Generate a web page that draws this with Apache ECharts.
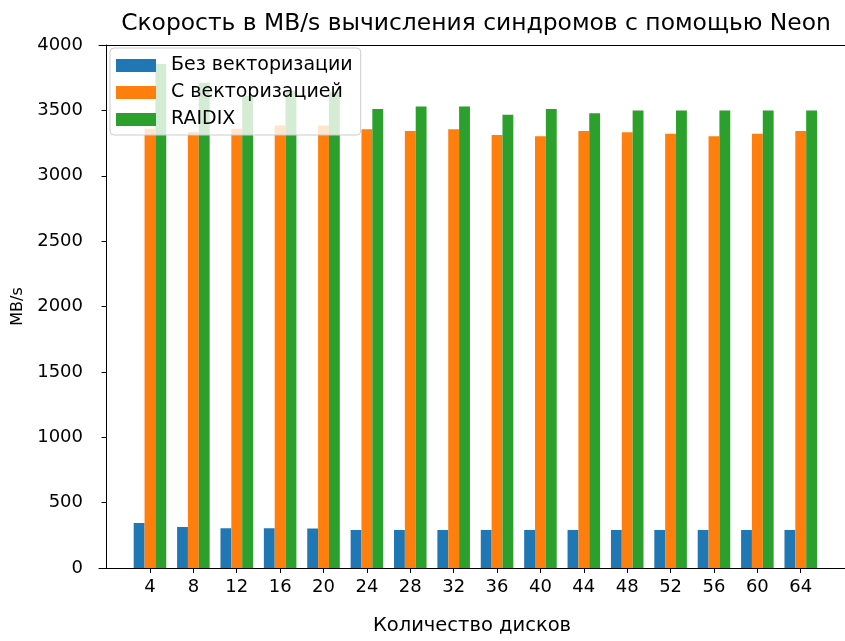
<!DOCTYPE html>
<html>
<head>
<meta charset="utf-8">
<script src="https://cdn.jsdelivr.net/npm/echarts@6/dist/echarts.min.js"></script>
<style>
  html, body { margin: 0; padding: 0; background: #fff; }
  #chart { width: 845px; height: 641px; }
</style>
</head>
<body>
<div id="chart"></div>
<script>
// количество дисков
var disks = [4, 8, 12, 16, 20, 24, 28, 32, 36, 40, 44, 48, 52, 56, 60, 64];
var noVector = [344, 314, 304, 304, 302, 291, 291, 291, 291, 291, 291, 291, 291, 291, 291, 291];
var withVector = [3360, 3335, 3360, 3385, 3385, 3355, 3342, 3355, 3312, 3302, 3342, 3332, 3322, 3302, 3322, 3342];
var raidix = [3855, 3711, 3610, 3650, 3640, 3510, 3530, 3530, 3467, 3510, 3478, 3500, 3500, 3500, 3500, 3500];
var seriesNames = ['Без векторизации', 'С векторизацией', 'RAIDIX'];

function pairs(vals) {
    return disks.map(function (d, i) { return [d, vals[i]]; });
}

var dom = document.getElementById('chart');
var myChart = echarts.init(dom);
var font = 'DejaVu Sans';
var xMin = -0.70, xMax = 68.08;

var option = {
    animation: false,
    color: ['#1f77b4', '#ff7f0e', '#2ca02c'],
    textStyle: { fontFamily: font },
    title: {
        text: 'Скорость в MB/s вычисления синдромов с помощью Neon',
        left: 471,
        textAlign: 'center',
        top: 7,
        textStyle: { fontFamily: font, fontSize: 23.4, fontWeight: 'normal', color: '#000' }
    },
    legend: {
        data: seriesNames,
        orient: 'vertical',
        left: 110,
        top: 48,
        itemWidth: 40,
        itemHeight: 13,
        itemGap: 8,
        padding: [8, 8, 6, 6],
        icon: 'rect',
        backgroundColor: 'rgba(255,255,255,0.8)',
        borderColor: '#cccccc',
        borderWidth: 1,
        borderRadius: 4,
        textStyle: { fontFamily: font, fontSize: 19, color: '#000', padding: [0, 0, 0, 10] }
    },
    grid: {
        left: 99,
        right: 0,
        top: 45,
        bottom: 65,
        show: false,
        containLabel: false
    },
    xAxis: [{
        type: 'value',
        min: xMin,
        max: xMax,
        name: 'Количество дисков',
        nameLocation: 'middle',
        nameGap: 48,
        nameTextStyle: { fontFamily: font, fontSize: 19.5, color: '#000' },
        axisLine: { show: true, onZero: false, lineStyle: { color: '#000', width: 1 } },
        axisTick: { show: true, length: 5, lineStyle: { color: '#000' }, customValues: disks },
        axisLabel: { color: '#000', fontSize: 18, margin: 10, customValues: disks },
        splitLine: { show: false }
    }, {
        // верхняя рамка
        type: 'value',
        position: 'top',
        min: xMin,
        max: xMax,
        axisLine: { show: true, onZero: false, lineStyle: { color: '#000', width: 1 } },
        axisTick: { show: false },
        axisLabel: { show: false },
        splitLine: { show: false }
    }],
    yAxis: {
        type: 'value',
        min: 0,
        max: 4000,
        interval: 500,
        name: 'MB/s',
        nameLocation: 'middle',
        nameGap: 63,
        nameTextStyle: { fontFamily: font, fontSize: 16, color: '#000' },
        axisLine: { show: true, lineStyle: { color: '#000', width: 1 } },
        axisTick: { show: true, length: 5, lineStyle: { color: '#000' } },
        axisLabel: { color: '#000', fontSize: 18, margin: 16, formatter: function (v) { return String(v); } },
        splitLine: { show: false }
    },
    series: [
        { name: seriesNames[0], type: 'bar', barWidth: 10.85, barGap: '0%', data: pairs(noVector) },
        { name: seriesNames[1], type: 'bar', barWidth: 10.85, barGap: '0%', data: pairs(withVector) },
        { name: seriesNames[2], type: 'bar', barWidth: 10.85, barGap: '0%', data: pairs(raidix) }
    ]
};

if (option && typeof option === 'object') {
    myChart.setOption(option, true);
}
</script>
</body>
</html>
